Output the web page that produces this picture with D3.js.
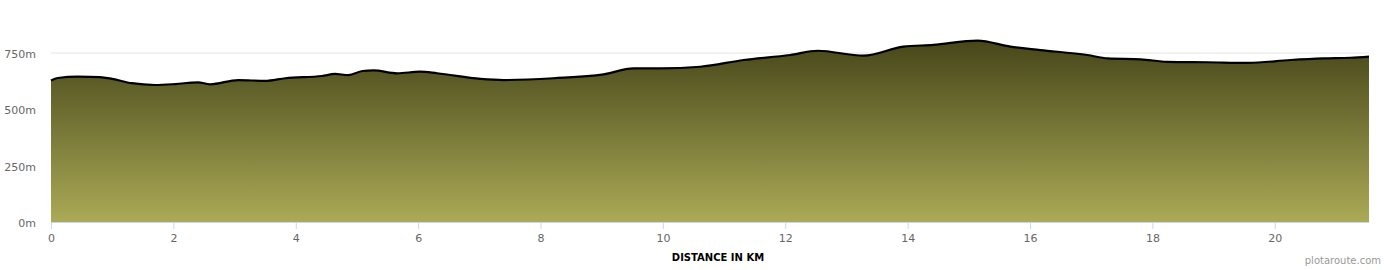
<!DOCTYPE html>
<html>
<head>
<meta charset="utf-8">
<script src="https://cdn.jsdelivr.net/npm/d3@7"></script>
<style>
  body { margin: 0; background: #fff; }
  svg { display: block; }
</style>
</head>
<body>
<script>
// distance along route (km) and elevation (m)
const distances = [0, 0.11, 0.44, 0.80, 1.00, 1.32, 1.70, 2.03, 2.40, 2.60, 3.06, 3.50, 3.83,
  4.43, 4.64, 4.86, 5.09, 5.27, 5.66, 6.03, 6.31, 7.02, 7.39, 8.21, 9.03, 9.52, 9.96, 10.61,
  11.32, 12.08, 12.53, 13.28, 13.93, 14.42, 15.14, 15.68, 16.17, 16.94, 17.27, 17.81, 18.25,
  18.90, 19.56, 20.26, 20.80, 21.24, 21.54]
const elevations = [628, 639, 645, 643, 635, 616, 608, 612, 620, 611, 630, 626, 638,
  648, 657, 652, 670, 673, 660, 667, 660, 635, 630, 638, 655, 682, 682, 689,
  719, 741, 760, 738, 778, 786, 805, 778, 763, 741, 726, 722, 711,
  709, 706, 719, 726, 729, 734]
const xTicks = [0, 2, 4, 6, 8, 10, 12, 14, 16, 18, 20]
const yTicks = [0, 250, 500, 750]

const width = 1390, height = 270
const svg = d3.select('body').append('svg')
  .attr('width', width)
  .attr('height', height)

const x = d3.scaleLinear().domain([0, d3.max(distances)]).range([51, 1369])
const y = d3.scaleLinear().domain([0, 750]).range([222, 53])

const points = distances.map((d, i) => [d, elevations[i]])

const grad = svg.append('defs').append('linearGradient')
  .attr('id', 'fill')
  .attr('x1', 0).attr('y1', 0).attr('x2', 0).attr('y2', 1)
grad.append('stop').attr('offset', '0%').attr('stop-color', '#46461a')
grad.append('stop').attr('offset', '100%').attr('stop-color', '#abaa56')

// grid
svg.append('g')
  .selectAll('line')
  .data(yTicks.filter(d => d > 0))
  .join('line')
  .attr('x1', 51).attr('x2', 1369)
  .attr('y1', d => y(d)).attr('y2', d => y(d))
  .style('stroke', '#e6e6e6')
  .style('stroke-width', 1)

const area = d3.area()
  .x(d => x(d[0]))
  .y0(y(0))
  .y1(d => y(d[1]))
  .curve(d3.curveMonotoneX)

const line = d3.line()
  .x(d => x(d[0]))
  .y(d => y(d[1]))
  .curve(d3.curveMonotoneX)

svg.append('path')
  .datum(points)
  .attr('d', area)
  .style('fill', 'url(#fill)')

svg.append('path')
  .datum(points)
  .attr('d', line)
  .style('fill', 'none')
  .style('stroke', '#000')
  .style('stroke-width', 2.2)

// x axis
const xAxis = svg.append('g')
  .attr('transform', `translate(0,${y(0)})`)
  .call(d3.axisBottom(x).tickValues(xTicks).tickSize(7).tickPadding(5).tickSizeOuter(0))
xAxis.select('.domain').style('stroke', '#ccd6eb')
xAxis.selectAll('.tick line').style('stroke', '#ccd6eb')
xAxis.selectAll('.tick text')
  .style('fill', '#666')
  .style('font-family', '"DejaVu Sans", sans-serif')
  .style('font-size', '11px')

// y axis labels
svg.append('g')
  .selectAll('text')
  .data(yTicks)
  .join('text')
  .attr('x', 36)
  .attr('y', d => y(d) + 5)
  .attr('text-anchor', 'end')
  .style('fill', '#666')
  .style('font-family', '"DejaVu Sans", sans-serif')
  .style('font-size', '11px')
  .text(d => d + 'm')

svg.append('text')
  .attr('x', 718)
  .attr('y', 261)
  .attr('text-anchor', 'middle')
  .style('font-family', '"DejaVu Sans", sans-serif')
  .style('font-weight', 'bold')
  .style('font-size', '10px')
  .style('fill', '#000')
  .text('DISTANCE IN KM')

svg.append('text')
  .attr('x', 1381)
  .attr('y', 264)
  .attr('text-anchor', 'end')
  .style('font-family', '"DejaVu Sans", sans-serif')
  .style('font-size', '10px')
  .style('fill', '#999')
  .text('plotaroute.com')
</script>
</body>
</html>
